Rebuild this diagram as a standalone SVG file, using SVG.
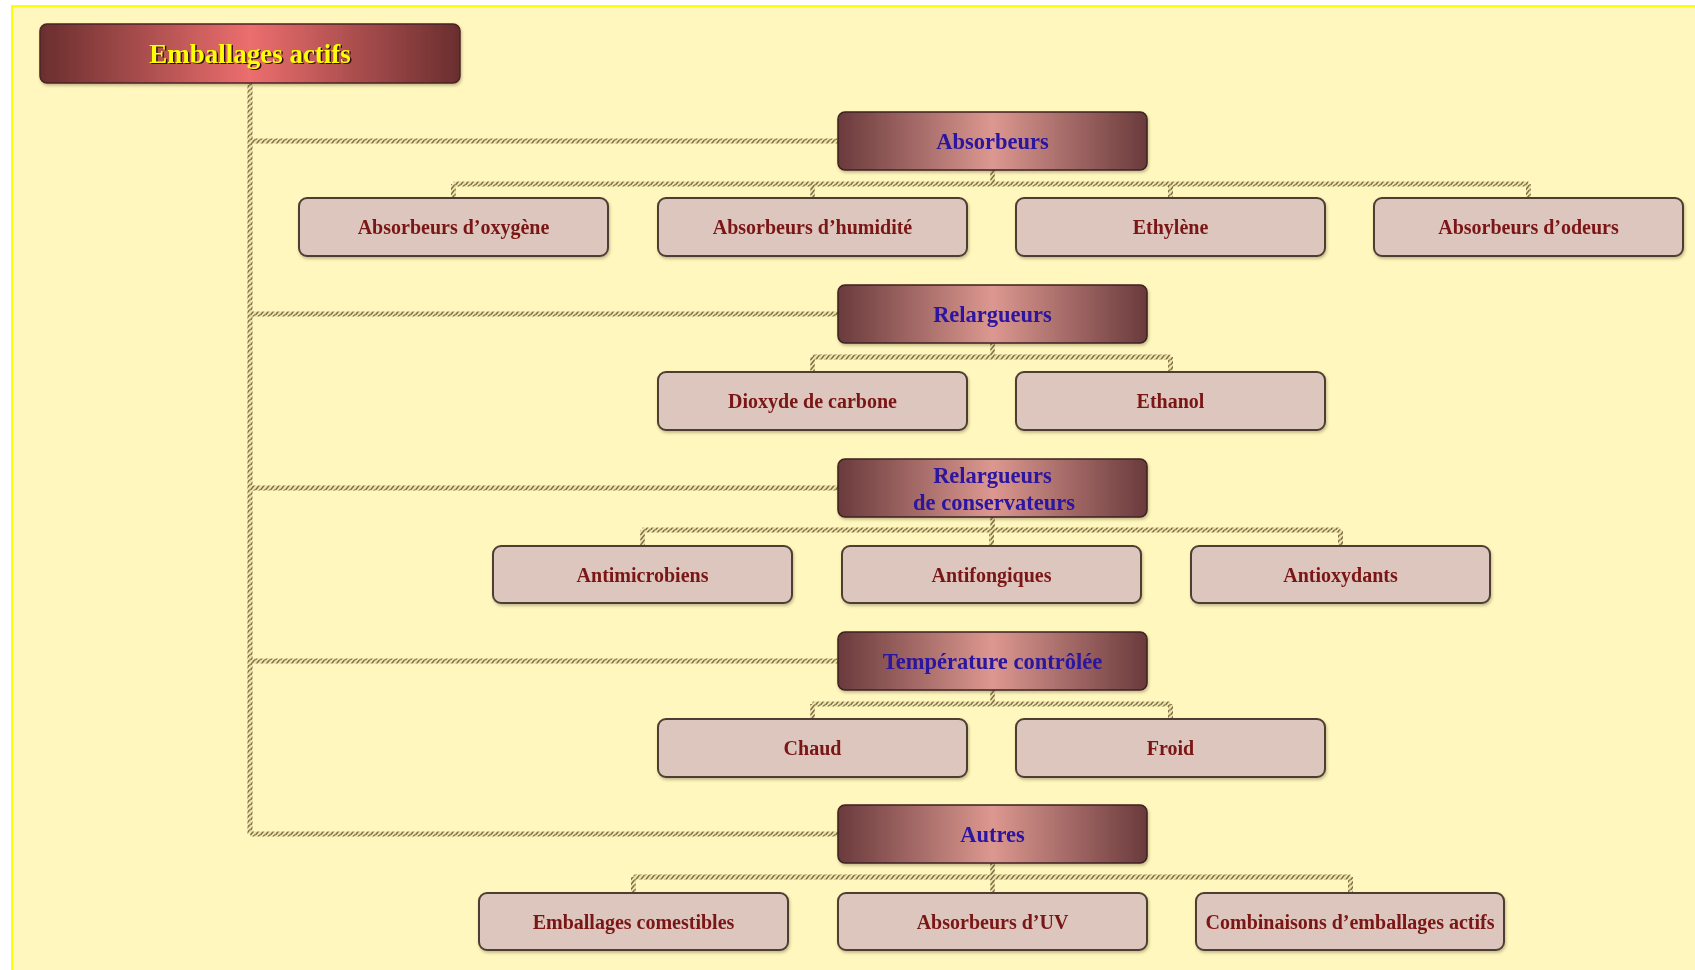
<svg xmlns="http://www.w3.org/2000/svg" width="1695" height="970" viewBox="0 0 1695 970">
<style>
.bg{fill:#fff7bd}
.rope{fill:none;stroke:url(#rope);stroke-width:5}
.root{fill:url(#gRoot);stroke:#4a2424;stroke-width:1.5}
.lvl{fill:url(#gLvl);stroke:#3e2222;stroke-width:1.5}
.leaf{fill:#dcc6bd;stroke:#4e3e32;stroke-width:2}
.t0{font-family:"Liberation Serif",serif;font-weight:bold;font-size:27px;fill:#ffff00;text-anchor:middle}
.t0s{font-family:"Liberation Serif",serif;font-weight:bold;font-size:27px;fill:#2a1010;text-anchor:middle}
.t1{font-family:"Liberation Serif",serif;font-weight:bold;font-size:22.5px;fill:#2a12a0;text-anchor:middle}
.t2{font-family:"Liberation Serif",serif;font-weight:bold;font-size:20px;fill:#7a1414;text-anchor:middle}
</style>
<defs>
<pattern id="rope" width="5" height="5" patternUnits="userSpaceOnUse">
<rect width="5" height="5" fill="#efe4b0"/>
<path d="M0.5,5 L4.5,0 M-1,1.2 L0,0 M4,6.2 L6,3.8" stroke="#7e6e3e" stroke-width="1.5"/>
</pattern>
<linearGradient id="gRoot" x1="0" y1="0" x2="1" y2="0">
<stop offset="0" stop-color="#6a2e2e"/>
<stop offset="0.5" stop-color="#ec6e6e"/>
<stop offset="1" stop-color="#6a2e2e"/>
</linearGradient>
<linearGradient id="gLvl" x1="0" y1="0" x2="1" y2="0">
<stop offset="0" stop-color="#6a3a3c"/>
<stop offset="0.5" stop-color="#dc9890"/>
<stop offset="1" stop-color="#6a3a3c"/>
</linearGradient>
<filter id="sh" x="-10%" y="-20%" width="120%" height="150%">
<feDropShadow dx="1" dy="2" stdDeviation="1.5" flood-color="#5a4a30" flood-opacity="0.35"/>
</filter>
</defs>
<rect x="0" y="0" width="1695" height="970" fill="#ffffff"/>
<rect class="bg" x="12" y="6" width="1690" height="970"/>
<path d="M12,976 L12,6 L1700,6" fill="none" stroke="#ffff00" stroke-width="2"/>

<g id="connectors">
<path class="rope" d="M250,83 L250,834"/>
<path class="rope" d="M250,141 L838,141 M250,314 L838,314 M250,488 L838,488 M250,661 L838,661 M250,834 L838,834"/>
<path class="rope" d="M453.5,184 L1528.5,184 M992.5,170 L992.5,184 M453.5,184 L453.5,198 M812.5,184 L812.5,198 M1170.5,184 L1170.5,198 M1528.5,184 L1528.5,198"/>
<path class="rope" d="M812.5,357 L1170.5,357 M992.5,343 L992.5,357 M812.5,357 L812.5,372 M1170.5,357 L1170.5,372"/>
<path class="rope" d="M642.5,530 L1340.5,530 M992.5,517 L992.5,530 M642.5,530 L642.5,546 M991.5,530 L991.5,546 M1340.5,530 L1340.5,546"/>
<path class="rope" d="M812.5,704 L1170.5,704 M992.5,690 L992.5,704 M812.5,704 L812.5,719 M1170.5,704 L1170.5,719"/>
<path class="rope" d="M633.5,877 L1350.5,877 M992.5,863 L992.5,877 M633.5,877 L633.5,893 M992.5,877 L992.5,893 M1350.5,877 L1350.5,893"/>
</g>

<g id="n-root" filter="url(#sh)">
<rect class="root" x="40" y="24" width="420" height="59" rx="7"/>
<text class="t0s" x="251.5" y="64">Emballages actifs</text>
<text class="t0" x="250" y="62.5">Emballages actifs</text>
</g>

<g id="n-absorbeurs" filter="url(#sh)">
<rect class="lvl" x="838" y="112" width="309" height="58" rx="7"/>
<text class="t1" x="992.5" y="148.5">Absorbeurs</text>
</g>
<g id="n-abs-oxygene" filter="url(#sh)">
<rect class="leaf" x="299" y="198" width="309" height="58" rx="8"/>
<text class="t2" x="453.5" y="233.5">Absorbeurs d’oxygène</text>
</g>
<g id="n-abs-humidite" filter="url(#sh)">
<rect class="leaf" x="658" y="198" width="309" height="58" rx="8"/>
<text class="t2" x="812.5" y="233.5">Absorbeurs d’humidité</text>
</g>
<g id="n-ethylene" filter="url(#sh)">
<rect class="leaf" x="1016" y="198" width="309" height="58" rx="8"/>
<text class="t2" x="1170.5" y="233.5">Ethylène</text>
</g>
<g id="n-abs-odeurs" filter="url(#sh)">
<rect class="leaf" x="1374" y="198" width="309" height="58" rx="8"/>
<text class="t2" x="1528.5" y="233.5">Absorbeurs d’odeurs</text>
</g>

<g id="n-relargueurs" filter="url(#sh)">
<rect class="lvl" x="838" y="285" width="309" height="58" rx="7"/>
<text class="t1" x="992.5" y="321.5">Relargueurs</text>
</g>
<g id="n-co2" filter="url(#sh)">
<rect class="leaf" x="658" y="372" width="309" height="58" rx="8"/>
<text class="t2" x="812.5" y="407.5">Dioxyde de carbone</text>
</g>
<g id="n-ethanol" filter="url(#sh)">
<rect class="leaf" x="1016" y="372" width="309" height="58" rx="8"/>
<text class="t2" x="1170.5" y="407.5">Ethanol</text>
</g>

<g id="n-relargueurs-cons" filter="url(#sh)">
<rect class="lvl" x="838" y="459" width="309" height="58" rx="7"/>
<text class="t1" x="992.5" y="482.5">Relargueurs</text>
<text class="t1" x="994" y="509.5">de conservateurs</text>
</g>
<g id="n-antimicrobiens" filter="url(#sh)">
<rect class="leaf" x="493" y="546" width="299" height="57" rx="8"/>
<text class="t2" x="642.5" y="581.5">Antimicrobiens</text>
</g>
<g id="n-antifongiques" filter="url(#sh)">
<rect class="leaf" x="842" y="546" width="299" height="57" rx="8"/>
<text class="t2" x="991.5" y="581.5">Antifongiques</text>
</g>
<g id="n-antioxydants" filter="url(#sh)">
<rect class="leaf" x="1191" y="546" width="299" height="57" rx="8"/>
<text class="t2" x="1340.5" y="581.5">Antioxydants</text>
</g>

<g id="n-temperature" filter="url(#sh)">
<rect class="lvl" x="838" y="632" width="309" height="58" rx="7"/>
<text class="t1" x="992.5" y="668.5">Température contrôlée</text>
</g>
<g id="n-chaud" filter="url(#sh)">
<rect class="leaf" x="658" y="719" width="309" height="58" rx="8"/>
<text class="t2" x="812.5" y="754.5">Chaud</text>
</g>
<g id="n-froid" filter="url(#sh)">
<rect class="leaf" x="1016" y="719" width="309" height="58" rx="8"/>
<text class="t2" x="1170.5" y="754.5">Froid</text>
</g>

<g id="n-autres" filter="url(#sh)">
<rect class="lvl" x="838" y="805" width="309" height="58" rx="7"/>
<text class="t1" x="992.5" y="841.5">Autres</text>
</g>
<g id="n-comestibles" filter="url(#sh)">
<rect class="leaf" x="479" y="893" width="309" height="57" rx="8"/>
<text class="t2" x="633.5" y="928.5">Emballages comestibles</text>
</g>
<g id="n-abs-uv" filter="url(#sh)">
<rect class="leaf" x="838" y="893" width="309" height="57" rx="8"/>
<text class="t2" x="992.5" y="928.5">Absorbeurs d’UV</text>
</g>
<g id="n-combinaisons" filter="url(#sh)">
<rect class="leaf" x="1196" y="893" width="308" height="57" rx="8"/>
<text class="t2" x="1350" y="928.5">Combinaisons d’emballages actifs</text>
</g>
</svg>
